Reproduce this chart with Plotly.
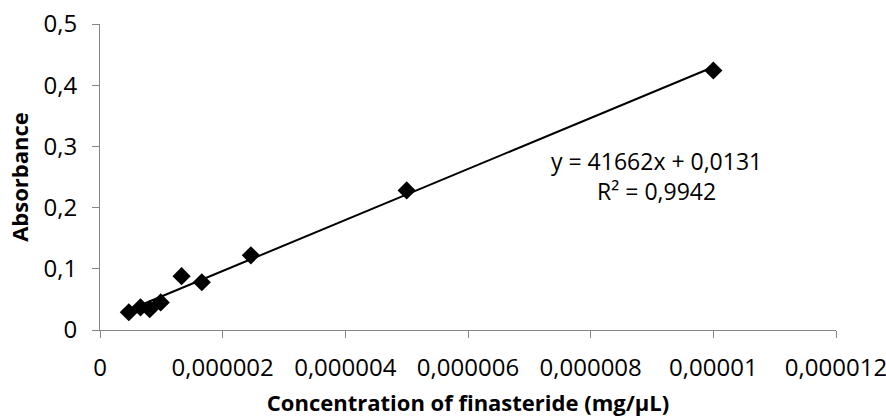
import plotly.graph_objects as go

# Data
conc = [0.47e-6, 0.66e-6, 0.81e-6, 0.99e-6, 1.33e-6, 1.66e-6, 2.46e-6, 5.0e-6, 10.0e-6]
absorb = [0.029, 0.037, 0.034, 0.045, 0.088, 0.078, 0.122, 0.228, 0.424]

slope = 41662
intercept = 0.0131
r2_text = "0,9942"

x_tickvals = [0, 2e-6, 4e-6, 6e-6, 8e-6, 10e-6, 12e-6]
x_ticktext = ["0", "0,000002", "0,000004", "0,000006", "0,000008", "0,00001", "0,000012"]
y_tickvals = [0, 0.1, 0.2, 0.3, 0.4, 0.5]
y_ticktext = ["0", "0,1", "0,2", "0,3", "0,4", "0,5"]

xmin, xmax = min(conc), max(conc)
trend_x = [xmin, xmax]
trend_y = [slope * v + intercept for v in trend_x]

FONT = "Open Sans"
AXIS_COLOR = "#868686"

fig = go.Figure()
fig.add_trace(go.Scatter(
    x=trend_x, y=trend_y, mode="lines",
    line=dict(color="black", width=2), showlegend=False, hoverinfo="skip"))
fig.add_trace(go.Scatter(
    x=conc, y=absorb, mode="markers",
    marker=dict(symbol="diamond", size=14, color="black"),
    showlegend=False))

fig.add_annotation(
    x=9.08e-6, y=0.251, xref="x", yref="y",
    text="y = 41662x + 0,0131<br>R² = " + r2_text,
    showarrow=False, align="center",
    font=dict(family=FONT, size=23, color="black"))

fig.update_layout(
    width=886, height=419,
    margin=dict(l=100, r=50, t=24, b=89),
    paper_bgcolor="white", plot_bgcolor="white",
    font=dict(family=FONT, size=24, color="black"),
    xaxis=dict(
        range=[0, 12e-6], tickvals=x_tickvals, ticktext=x_ticktext,
        automargin=False,
        showgrid=False, zeroline=False, showline=True, linecolor=AXIS_COLOR, linewidth=1,
        ticks="outside", ticklen=7, tickcolor=AXIS_COLOR, ticklabelstandoff=9,
        ticklabeloverflow="allow",
        tickfont=dict(family=FONT, size=24, color="black"),
        title=dict(text="<b>Concentration of finasteride (mg/µL)</b>",
                   font=dict(family=FONT, size=22, color="black"), standoff=13),
    ),
    yaxis=dict(
        range=[0, 0.5], tickvals=y_tickvals, ticktext=y_ticktext,
        automargin=False,
        showgrid=False, zeroline=False, showline=True, linecolor=AXIS_COLOR, linewidth=1,
        ticks="outside", ticklen=7, tickcolor=AXIS_COLOR, ticklabelstandoff=10,
        ticklabeloverflow="allow",
        tickfont=dict(family=FONT, size=24, color="black"),
        title=dict(text="<b>Absorbance</b>",
                   font=dict(family=FONT, size=22, color="black"), standoff=8),
    ),
)

fig.write_html("out.html")
